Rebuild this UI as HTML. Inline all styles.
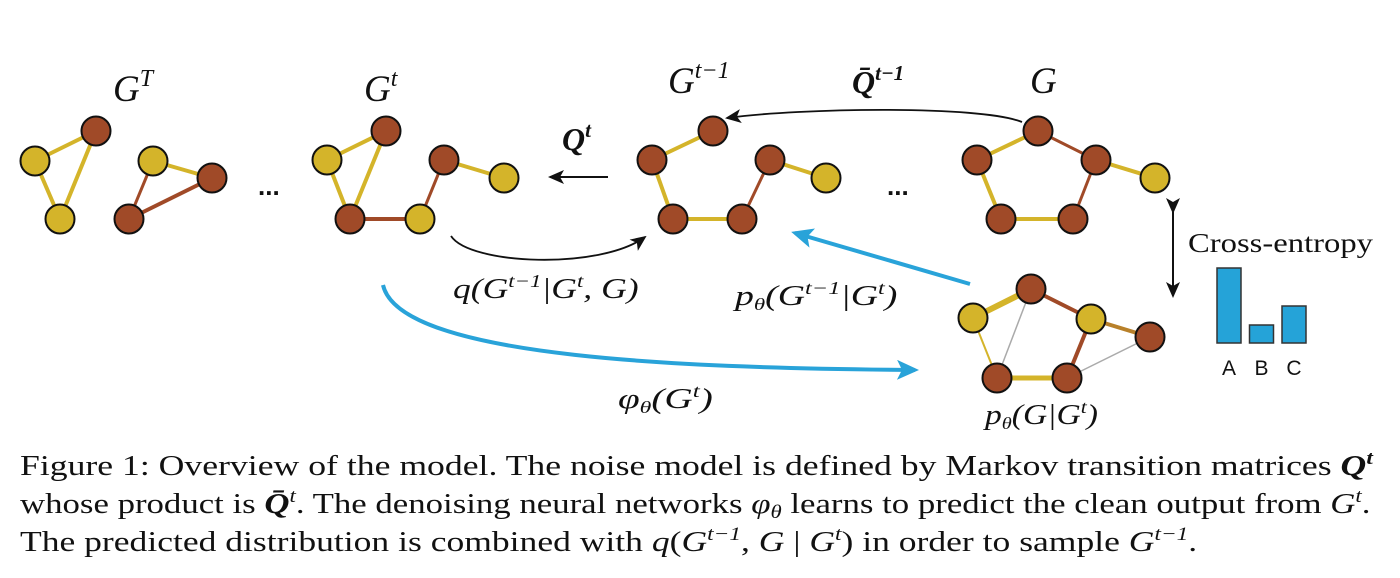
<!DOCTYPE html>
<html><head><meta charset="utf-8"><style>
body{margin:0;background:#fff;width:1400px;height:578px;overflow:hidden}
svg{display:block}
.m{font-family:"Liberation Serif",serif;font-style:italic;fill:#111}
.cap{font-family:"Liberation Serif",serif;font-size:29px;fill:#111}
</style></head><body>
<svg width="1400" height="578" viewBox="0 0 1400 578">
<defs>
<marker id="ahb" markerWidth="22" markerHeight="20" refX="18" refY="10" orient="auto" markerUnits="userSpaceOnUse"><path d="M0,0 L22,10 L0,20 L5,10z" fill="#29a3d9"/></marker>
<marker id="ahk" markerWidth="16" markerHeight="14" refX="14" refY="7" orient="auto" markerUnits="userSpaceOnUse"><path d="M0,0 L16,7 L0,14 L4,7z" fill="#111"/></marker>
</defs>
<g id="graphs"></g>
<!-- labels -->
<text class="m" x="113" y="101" font-size="37">G<tspan font-size="24" dy="-15">T</tspan></text>
<text class="m" x="364" y="101" font-size="37">G<tspan font-size="24" dy="-15">t</tspan></text>
<text class="m" x="668" y="93" font-size="37">G<tspan font-size="24" dy="-15">t−1</tspan></text>
<text class="m" x="1030" y="93" font-size="37">G</text>
<text class="m" x="562" y="150" font-size="32" font-weight="bold">Q<tspan font-size="21" dy="-13">t</tspan></text>
<text class="m" x="852" y="93" font-size="32" font-weight="bold">Q̄<tspan font-size="21" dy="-13">t−1</tspan></text>
<text x="258" y="195" font-size="26" font-family="Liberation Sans" font-weight="bold" fill="#111">...</text>
<text x="887" y="195" font-size="26" font-family="Liberation Sans" font-weight="bold" fill="#111">...</text>
<!-- arrows -->
<line x1="608" y1="177" x2="550" y2="177" stroke="#111" stroke-width="2" marker-end="url(#ahk)"/>
<path d="M1022,122 C980,105 800,108 727,118" fill="none" stroke="#111" stroke-width="1.8" marker-end="url(#ahk)"/>
<path d="M451,236 C470,265 600,270 645,237" fill="none" stroke="#111" stroke-width="1.8" marker-end="url(#ahk)"/>
<line x1="970" y1="284" x2="795" y2="233" stroke="#29a3d9" stroke-width="4" marker-end="url(#ahb)"/>
<path d="M383,285 C400,360 700,368 915,370" fill="none" stroke="#29a3d9" stroke-width="4" marker-end="url(#ahb)"/>
<line x1="1173" y1="212" x2="1173" y2="296" stroke="#111" stroke-width="2" marker-start="url(#ahk)" marker-end="url(#ahk)"/>
<text class="m" transform="translate(453,298) scale(1.27,1)" x="0" y="0" font-size="28">q(G<tspan font-size="18" dy="-11">t−1</tspan><tspan dy="11">|G</tspan><tspan font-size="18" dy="-11">t</tspan><tspan dy="11">, G)</tspan></text>
<text class="m" transform="translate(735,305) scale(1.35,1)" x="0" y="0" font-size="28">p<tspan font-size="17" dy="5">θ</tspan><tspan dy="-5">(G</tspan><tspan font-size="18" dy="-11">t−1</tspan><tspan dy="11">|G</tspan><tspan font-size="18" dy="-11">t</tspan><tspan dy="11">)</tspan></text>
<text class="m" transform="translate(618,408) scale(1.4,1)" x="0" y="0" font-size="28">φ<tspan font-size="17" dy="5">θ</tspan><tspan dy="-5">(G</tspan><tspan font-size="18" dy="-11">t</tspan><tspan dy="11">)</tspan></text>
<text class="m" transform="translate(985,424) scale(1.2,1)" x="0" y="0" font-size="28">p<tspan font-size="17" dy="5">θ</tspan><tspan dy="-5">(G|G</tspan><tspan font-size="18" dy="-11">t</tspan><tspan dy="11">)</tspan></text>
<text transform="translate(1188,252) scale(1.21,1)" x="0" y="0" font-size="27" font-family="Liberation Serif" fill="#111">Cross-entropy</text>
<g id="bars"></g>
<text class="cap" transform="translate(20,475) scale(1.23,1)" x="0" y="0">Figure 1: Overview of the model.  The noise model is defined by Markov transition matrices <tspan font-style="italic" font-weight="bold">Q</tspan><tspan font-size="19" font-style="italic" font-weight="bold" dy="-11">t</tspan></text>
<text class="cap" transform="translate(20,513) scale(1.2,1)" x="0" y="0">whose product is <tspan font-style="italic" font-weight="bold">Q̄</tspan><tspan font-size="19" font-style="italic" dy="-11">t</tspan><tspan dy="11">. The denoising neural networks </tspan><tspan font-style="italic">φ</tspan><tspan font-size="19" font-style="italic" dy="5">θ</tspan><tspan dy="-5"> learns to predict the clean output from </tspan><tspan font-style="italic">G</tspan><tspan font-size="19" font-style="italic" dy="-11">t</tspan><tspan dy="11">.</tspan></text>
<text class="cap" transform="translate(20,551) scale(1.226,1)" x="0" y="0">The predicted distribution is combined with <tspan font-style="italic">q</tspan>(<tspan font-style="italic">G</tspan><tspan font-size="19" font-style="italic" dy="-11">t−1</tspan><tspan dy="11">, </tspan><tspan font-style="italic">G</tspan> | <tspan font-style="italic">G</tspan><tspan font-size="19" font-style="italic" dy="-11">t</tspan><tspan dy="11">) in order to sample </tspan><tspan font-style="italic">G</tspan><tspan font-size="19" font-style="italic" dy="-11">t−1</tspan><tspan dy="11">.</tspan></text>
</svg>
<script>
const Y='#d4b42a',B='#a04a28',GR='#aaa';
const ns='http://www.w3.org/2000/svg';
const graphs=[
 {name:'graph-gT-a',nodes:[[35,161,Y],[96,131,B],[60,219,Y]],edges:[[0,1,Y,4],[0,2,Y,4],[1,2,Y,4]]},
 {name:'graph-gT-b',nodes:[[153,161,Y],[212,178,B],[129,219,B]],edges:[[0,1,Y,4],[0,2,B,3],[2,1,B,4]]},
 {name:'graph-gt',nodes:[[327,160,Y],[386,131,B],[350,219,B],[420,219,Y],[444,160,B],[504,178,Y]],edges:[[0,1,Y,4],[0,2,Y,4],[1,2,Y,4],[2,3,B,4],[3,4,B,3],[4,5,Y,4]]},
 {name:'graph-gt-1',nodes:[[652,160,B],[713,131,B],[673,219,B],[742,219,B],[770,160,B],[826,178,Y]],edges:[[0,1,Y,4],[0,2,Y,4],[2,3,Y,4],[3,4,B,3],[4,5,Y,4]]},
 {name:'graph-g',nodes:[[977,160,B],[1038,131,B],[1001,219,B],[1073,219,B],[1096,160,B],[1155,178,Y]],edges:[[0,1,Y,4],[1,4,B,3],[0,2,Y,4],[2,3,Y,4],[3,4,B,3],[4,5,Y,4]]},
 {name:'graph-prediction',nodes:[[973,318,Y],[1031,289,B],[1091,319,Y],[1150,337,B],[997,378,B],[1067,378,B]],edges:[[0,1,Y,6],[1,2,B,4],[2,3,'#b8802a',4],[0,4,Y,2],[1,4,GR,1.5],[4,5,Y,5],[5,2,B,4],[5,3,GR,1.5]]}
];
const gg=document.getElementById('graphs');
graphs.forEach(g=>{
 const grp=document.createElementNS(ns,'g');
 
 
 g.edges.forEach(e=>{const a=g.nodes[e[0]],b=g.nodes[e[1]];const l=document.createElementNS(ns,'line');
  l.setAttribute('x1',a[0]);l.setAttribute('y1',a[1]);l.setAttribute('x2',b[0]);l.setAttribute('y2',b[1]);
  l.setAttribute('stroke',e[2]);l.setAttribute('stroke-width',e[3]);
  
  
  grp.appendChild(l);});
 g.nodes.forEach(n=>{const c=document.createElementNS(ns,'circle');
  c.setAttribute('cx',n[0]);c.setAttribute('cy',n[1]);c.setAttribute('r',14.5);c.setAttribute('fill',n[2]);
  c.setAttribute('stroke','#111');c.setAttribute('stroke-width',2);
  
  
  grp.appendChild(c);});
 gg.appendChild(grp);
});
const barCats=['A','B','C'];
const barVals=[75,18,37];
const bg=document.getElementById('bars');
const base=343,x0=1217,step=32.5,bw=24;
barCats.forEach((c,i)=>{
 const r=document.createElementNS(ns,'rect');
 r.setAttribute('x',x0+i*step);r.setAttribute('y',base-barVals[i]);r.setAttribute('width',bw);r.setAttribute('height',barVals[i]);
 r.setAttribute('fill','#25a3d8');r.setAttribute('stroke','#333');r.setAttribute('stroke-width',1.5);
 
 
 bg.appendChild(r);
 const t=document.createElementNS(ns,'text');
 t.setAttribute('x',x0+i*step+bw/2);t.setAttribute('y',375);t.setAttribute('text-anchor','middle');
 t.setAttribute('font-family','Liberation Sans');t.setAttribute('font-size','21');t.setAttribute('fill','#111');
 t.textContent=c;
 
 
 bg.appendChild(t);
});
</script>
</body></html>
